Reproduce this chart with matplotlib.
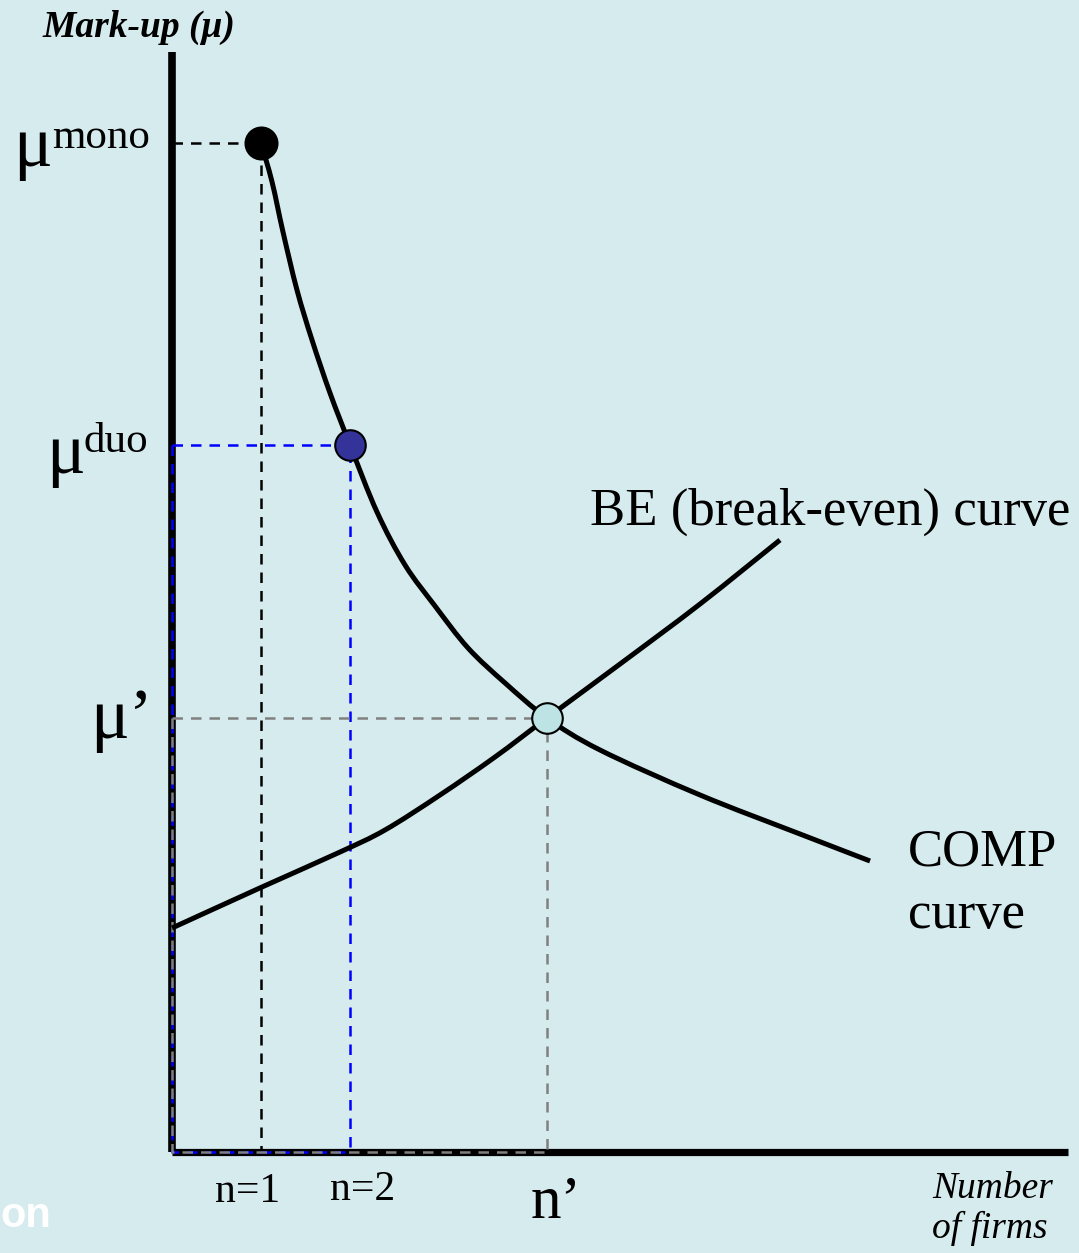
#!/usr/bin/env python3
import matplotlib
matplotlib.use("Agg")
import matplotlib.pyplot as plt
from matplotlib.path import Path
from matplotlib.patches import PathPatch

# values (x = number of firms, y = mark-up, arbitrary units)
comp_n = [1.0, 1.124, 1.247, 1.404, 1.573, 1.775, 2.0, 2.303, 2.618, 2.955,
          3.326, 3.742, 4.213, 4.809, 5.933, 7.056, 7.843]
comp_mu = [10.09, 9.70, 9.20, 8.62, 8.12, 7.59, 7.07, 6.40, 5.87, 5.46,
           5.04, 4.69, 4.34, 4.02, 3.57, 3.18, 2.91]

be_n = [0.0, 1.011, 1.888, 2.393, 3.011, 3.629, 4.213, 5.034, 5.933, 6.831]
be_mu = [2.24, 2.65, 3.00, 3.22, 3.57, 3.95, 4.34, 4.88, 5.48, 6.12]

n_mono, mu_mono = 1.0, 10.09
n_duo, mu_duo = 2.0, 7.07
n_eq, mu_eq = 4.213, 4.34

x_max, y_max = 10.07, 11.0

BG = "#D6EBEE"
SERIF = "Liberation Serif"


def smooth_path(xs, ys):
    # Catmull-Rom through the read points, drawn as cubic Bezier segments
    pts = list(zip(xs, ys))
    verts = [pts[0]]
    codes = [Path.MOVETO]
    for i in range(len(pts) - 1):
        p0 = pts[max(i - 1, 0)]
        p1 = pts[i]
        p2 = pts[i + 1]
        p3 = pts[min(i + 2, len(pts) - 1)]
        c1 = (p1[0] + (p2[0] - p0[0]) / 6, p1[1] + (p2[1] - p0[1]) / 6)
        c2 = (p2[0] - (p3[0] - p1[0]) / 6, p2[1] - (p3[1] - p1[1]) / 6)
        verts += [c1, c2, p2]
        codes += [Path.CURVE4] * 3
    return Path(verts, codes)


def main():
    fig = plt.figure(figsize=(10.79, 12.53), dpi=100, facecolor=BG)
    ax = fig.add_axes([0, 0, 1, 1])
    ax.set_facecolor(BG)
    ax.set_xlim(-1.933, 10.191)
    ax.set_ylim(-1.01, 11.52)
    ax.set_axis_off()

    # axes drawn by hand
    ax.plot([0, 0], [0, y_max], color="black", lw=5.5, solid_capstyle="butt", zorder=2)
    ax.plot([0, x_max], [0, 0], color="black", lw=5.2, solid_capstyle="butt", zorder=2)

    # drop lines
    dash = (0, (4.2, 3.2))
    lw_d = 1.8
    ax.plot([0, n_mono, n_mono], [mu_mono, mu_mono, 0], color="black", lw=lw_d,
            linestyle=dash, zorder=3)
    ax.plot([0, n_duo, n_duo], [mu_duo, mu_duo, 0], color="#0000FF", lw=lw_d,
            linestyle=dash, zorder=3)
    ax.plot([0, 0, n_duo], [mu_duo, 0, 0], color="#0000FF", lw=lw_d,
            linestyle=dash, zorder=3)
    ax.plot([0, n_eq, n_eq], [mu_eq, mu_eq, 0], color="#808080", lw=lw_d,
            linestyle=dash, zorder=3)
    ax.plot([0, 0, n_eq], [mu_eq, 0, 0], color="#808080", lw=lw_d,
            linestyle=dash, zorder=3)

    # curves
    for xs, ys in [(comp_n, comp_mu), (be_n, be_mu)]:
        ax.add_patch(PathPatch(smooth_path(xs, ys), facecolor="none",
                               edgecolor="black", lw=3.6, capstyle="butt", zorder=4))

    # equilibrium points
    ax.plot([n_mono], [mu_mono], "o", ms=23, color="black", mec="black", mew=1.5, zorder=5)
    ax.plot([n_duo], [mu_duo], "o", ms=22, color="#333399", mec="black", mew=1.5, zorder=5)
    ax.plot([n_eq], [mu_eq], "o", ms=22, color="#BDE3E5", mec="black", mew=1.5, zorder=5)

    # labels
    ax.text(-1.46, 11.15, "Mark-up (μ)", family=SERIF, fontsize=27,
            fontweight="bold", style="italic", va="baseline", ha="left")

    ax.text(-1.78, mu_mono - 0.23, "μ", family=SERIF, fontsize=52, va="baseline")
    ax.text(-1.35, mu_mono - 0.05, "mono", family=SERIF, fontsize=31, va="baseline")
    ax.text(-1.42, mu_duo - 0.28, "μ", family=SERIF, fontsize=52, va="baseline")
    ax.text(-0.99, mu_duo - 0.07, "duo", family=SERIF, fontsize=31, va="baseline")
    ax.text(-0.92, mu_eq - 0.20, "μ’", family=SERIF, fontsize=52, va="baseline")

    ax.text(0.85, -0.50, "n=1", family=SERIF, fontsize=30, ha="center", va="baseline")
    ax.text(2.14, -0.48, "n=2", family=SERIF, fontsize=30, ha="center", va="baseline")
    ax.text(4.31, -0.66, "n’", family=SERIF, fontsize=44, ha="center", va="baseline")

    ax.text(4.70, 6.27, "BE (break-even) curve", family=SERIF, fontsize=38,
            va="baseline")
    ax.text(8.27, 2.87, "COMP", family=SERIF, fontsize=38, va="baseline")
    ax.text(8.27, 2.24, "curve", family=SERIF, fontsize=38, va="baseline")

    ax.text(8.54, -0.46, "Number", family=SERIF, fontsize=27, style="italic",
            va="baseline")
    ax.text(8.54, -0.86, "of firms", family=SERIF, fontsize=27, style="italic",
            va="baseline")

    # leftover slide footer at the left edge
    ax.text(-1.933, -0.75, "on", family="Liberation Sans", fontsize=30,
            fontweight="bold", color="white", ha="left", va="baseline")

    fig.savefig("out.png", dpi=100, facecolor=BG)


if __name__ == '__main__':
    main()
